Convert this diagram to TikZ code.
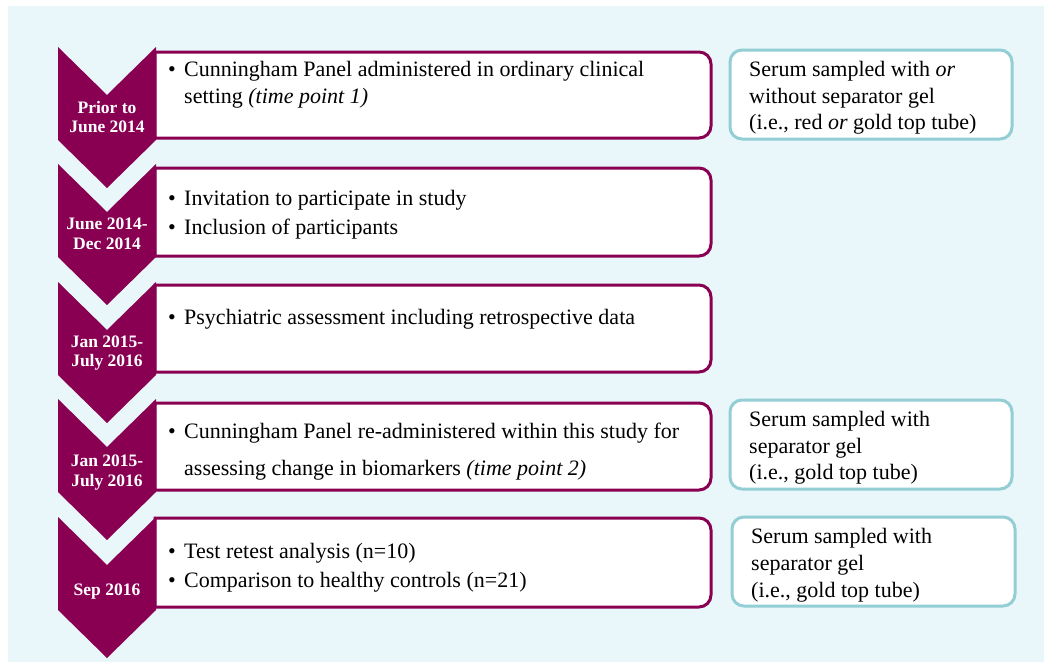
\documentclass[tikz,border=0pt]{standalone}
\usepackage{fontspec}
\setmainfont{Liberation Serif}
\definecolor{plum}{RGB}{137,0,82}
\definecolor{tealb}{RGB}{146,206,212}
\definecolor{bgc}{RGB}{234,247,250}
\newcommand\chevshape[1]{%
  \fill[chev, shift={(0,#1)}] (58,0) -- (107,48) -- (156,0) -- (156,93) -- (107,141) -- (58,93) -- cycle;}
\newcommand\evframe[1]{%
  \filldraw[evline] (#1.north west) [rounded corners=12pt] -- (#1.north east) -- (#1.south east) [sharp corners] -- (#1.south west) -- cycle;}
\begin{document}
\begin{tikzpicture}[x=1pt,y=-1pt,
  txt/.style={anchor=base west, inner sep=0pt, font=\fontsize{22}{26}\selectfont, text=black},
  lab/.style={anchor=base, inner sep=0pt, font=\fontsize{17.5}{20}\selectfont\bfseries, text=white},
  evbox/.style={inner sep=0pt, outer sep=0pt, minimum width=556pt},
  evline/.style={draw=plum, line width=3pt, fill=white},
  smbox/.style={draw=tealb, line width=3pt, fill=white, rounded corners=12pt, inner sep=0pt},
  chev/.style={fill=plum}]
\useasboundingbox (0,0) rectangle (1044,662);
\fill[bgc] (8,6) rectangle (1044,662);

% event boxes (x from 155 to 711)
\node[evbox, minimum height=86pt] (b1) at (433,95) {};
\node[evbox, minimum height=88pt] (b2) at (433,212) {};
\node[evbox, minimum height=87pt] (b3) at (433,328.5) {};
\node[evbox, minimum height=87pt] (b4) at (433,446.5) {};
\node[evbox, minimum height=89pt] (b5) at (433,562.5) {};
\evframe{b1}
\evframe{b2}
\evframe{b3}
\evframe{b4}
\evframe{b5}

% sample boxes
\node[smbox, minimum width=282pt, minimum height=89pt] (r1) at (871,94.5) {};
\node[smbox, minimum width=282pt, minimum height=89pt] (r4) at (871,444.5) {};
\node[smbox, minimum width=283pt, minimum height=89pt] (r5) at (873.5,561.5) {};

% chevrons
\chevshape{47}
\chevshape{164}
\chevshape{282}
\chevshape{399}
\chevshape{517}

% chevron labels
\node[lab] (l1a) at (107,113) {Prior to};
\node[lab] (l1b) at (107,132) {June 2014};
\node[lab] (l2a) at (107,229) {June 2014-};
\node[lab] (l2b) at (107,249) {Dec 2014};
\node[lab] (l3a) at (107,347) {Jan 2015-};
\node[lab] (l3b) at (107,366) {July 2016};
\node[lab] (l4a) at (107,466) {Jan 2015-};
\node[lab] (l4b) at (107,486) {July 2016};
\node[lab] (l5a) at (107,595) {Sep 2016};

% box texts
\node[txt] (t1d) at (168,76) {•};
\node[txt] (t1a) at (184,76) {Cunningham Panel administered in ordinary clinical};
\node[txt] (t1b) at (184,103) {setting \textit{(time point 1)}};
\node[txt] (t2d) at (168,205) {•};
\node[txt] (t2a) at (184,205) {Invitation to participate in study};
\node[txt] (t2e) at (168,234) {•};
\node[txt] (t2b) at (184,234) {Inclusion of participants};
\node[txt] (t3d) at (168,324) {•};
\node[txt] (t3a) at (184,324) {Psychiatric assessment including retrospective data};
\node[txt] (t4d) at (168,438) {•};
\node[txt] (t4a) at (184,438) {Cunningham Panel re-administered within this study for};
\node[txt] (t4b) at (184,475) {assessing change in biomarkers \textit{(time point 2)}};
\node[txt] (t5d) at (168,558) {•};
\node[txt] (t5a) at (184,558) {Test retest analysis (n=10)};
\node[txt] (t5e) at (168,587) {•};
\node[txt] (t5b) at (184,587) {Comparison to healthy controls (n=21)};

% sample texts
\node[txt] (s1a) at (749,76) {Serum sampled with \textit{or}};
\node[txt] (s1b) at (749,103) {without separator gel};
\node[txt] (s1c) at (749,129) {(i.e., red \textit{or} gold top tube)};
\node[txt] (s4a) at (749,426) {Serum sampled with};
\node[txt] (s4b) at (749,453) {separator gel};
\node[txt] (s4c) at (749,479) {(i.e.,\ gold top tube)};
\node[txt] (s5a) at (751,543) {Serum sampled with};
\node[txt] (s5b) at (751,570) {separator gel};
\node[txt] (s5c) at (751,597) {(i.e.,\ gold top tube)};
\end{tikzpicture}
\end{document}
